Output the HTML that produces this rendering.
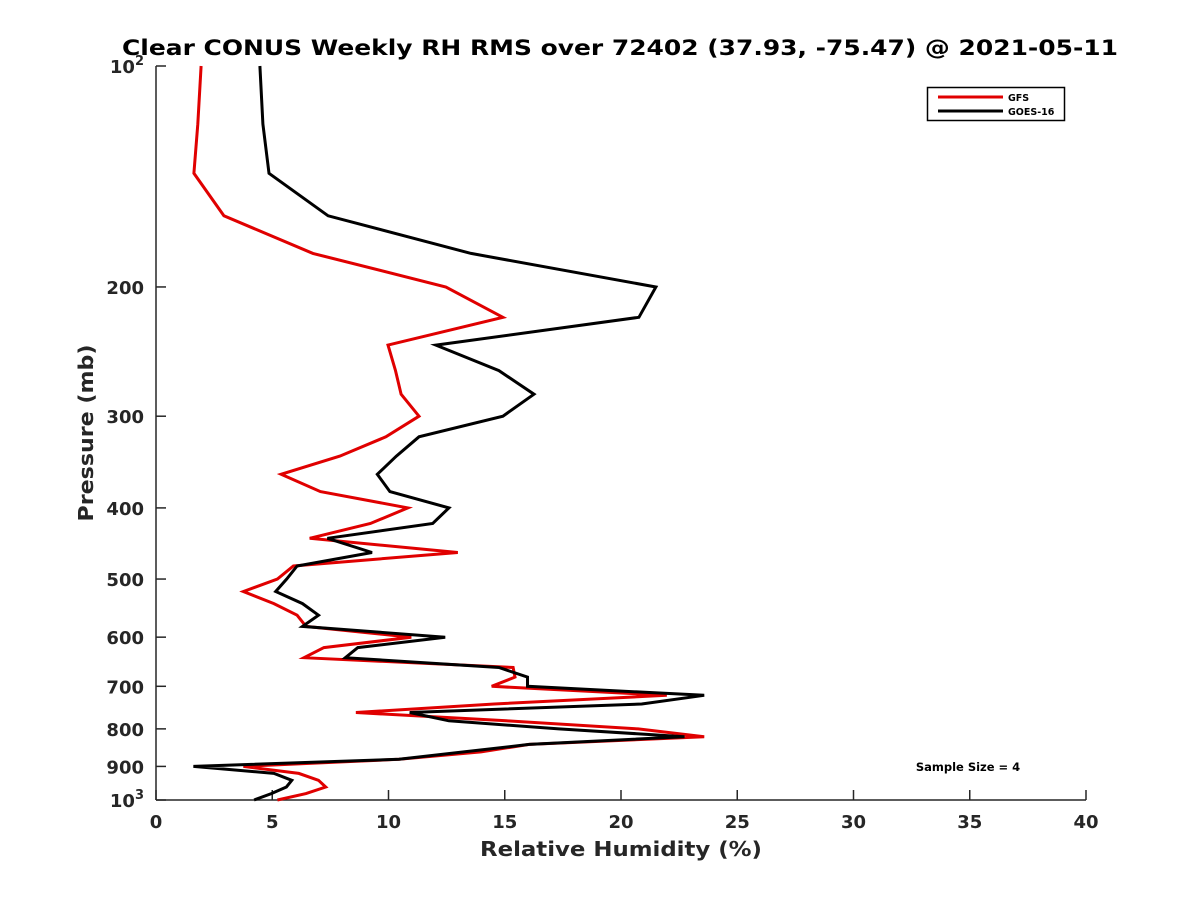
<!DOCTYPE html>
<html><head><meta charset="utf-8">
<style>
body{margin:0;background:#fff;}
svg{display:block;font-family:"DejaVu Sans","Liberation Sans",sans-serif;}
</style></head>
<body>
<svg id="chart" width="1200" height="900" viewBox="0 0 1200 900">
<rect x="0" y="0" width="1200" height="900" fill="#fff"/>
<text x="620" y="55" text-anchor="middle" font-size="21" font-weight="bold" fill="#000" textLength="996" lengthAdjust="spacingAndGlyphs">Clear CONUS Weekly RH RMS over 72402 (37.93, -75.47) @ 2021-05-11</text>
<g id="axes"></g>
<g id="series"></g>
<g>
<rect x="927.5" y="87.5" width="137" height="33" fill="#fff" stroke="#000" stroke-width="1.5"/>
<line x1="938" y1="97" x2="1003" y2="97" stroke="#e00000" stroke-width="3"/>
<text x="1008" y="101" font-size="9.5" font-weight="bold">GFS</text>
<line x1="938" y1="111" x2="1003" y2="111" stroke="#000" stroke-width="3"/>
<text x="1008" y="115" font-size="9.5" font-weight="bold">GOES-16</text>
</g>
<text x="968" y="771" text-anchor="middle" font-size="11.5" font-weight="bold">Sample Size = 4</text>
<text x="621" y="856" text-anchor="middle" font-size="20" font-weight="bold" fill="#262626" textLength="282" lengthAdjust="spacingAndGlyphs">Relative Humidity (%)</text>
<text transform="translate(93,433) rotate(-90)" text-anchor="middle" font-size="20" font-weight="bold" fill="#262626" textLength="177" lengthAdjust="spacingAndGlyphs">Pressure (mb)</text>
</svg>
<script>
const pressures = [100,120,140,160,180,200,220,240,260,280,300,320,340,360,380,400,420,440,460,480,500,520,540,560,580,600,620,640,660,680,700,720,740,760,780,800,820,840,860,880,900,920,940,960,980,1000];
const gfsRH = [1.94,1.8,1.63,2.92,6.75,12.47,14.92,9.98,10.3,10.54,11.31,9.89,7.91,5.38,7.07,10.83,9.22,6.61,12.98,5.91,5.22,3.76,5.07,6.07,6.45,10.98,7.22,6.37,15.36,15.44,14.44,21.97,14.55,8.6,15.07,20.74,23.58,16.05,13.98,10.45,3.76,6.14,6.99,7.3,6.45,5.22];
const goesRH = [4.47,4.6,4.86,7.4,13.55,21.5,20.77,12.04,14.75,16.26,14.92,11.31,10.34,9.52,10.06,12.6,11.9,7.37,9.29,6.07,5.62,5.15,6.3,6.99,6.3,12.44,8.68,8.14,14.75,15.98,15.98,23.58,20.89,10.91,12.6,17.33,22.73,16.05,13.24,10.45,1.61,5.07,5.84,5.61,4.96,4.22];
const xTicks = [0,5,10,15,20,25,30,35,40];
const yTicks = [100,200,300,400,500,600,700,800,900,1000];
const yTickLabels = ["10^2","200","300","400","500","600","700","800","900","10^3"];

const X0=156,X1=1086,Y0=66,Y1=800;
const sx=v=>X0+(v-0)/(40-0)*(X1-X0);
const sy=p=>Y0+(Math.log10(p)-2)*(Y1-Y0);
const NS="http://www.w3.org/2000/svg";
function mk(tag,attrs,parent){const e=document.createElementNS(NS,tag);for(const k in attrs)e.setAttribute(k,attrs[k]);parent.appendChild(e);return e;}
const axes=document.getElementById('axes');
let a=mk('line',{x1:X0,y1:Y0,x2:X0,y2:Y1,stroke:'#262626','stroke-width':1.5},axes);


a=mk('line',{x1:X0,y1:Y1,x2:X1,y2:Y1,stroke:'#262626','stroke-width':1.5},axes);


xTicks.forEach(v=>{
  const x=sx(v);
  const t=mk('line',{x1:x,y1:Y1,x2:x,y2:Y1-10,stroke:'#262626','stroke-width':1.5},axes);
  
  
  const l=mk('text',{x:x,y:Y1+28,'text-anchor':'middle','font-size':18,'font-weight':'bold',fill:'#262626'},axes);
  l.textContent=v;
  
  
});
yTicks.forEach((p,i)=>{
  const y=sy(p);
  const t=mk('line',{x1:X0,y1:y,x2:X0+10,y2:y,stroke:'#262626','stroke-width':1.5},axes);
  
  
  const lab=yTickLabels[i];
  const l=mk('text',{x:X0-12,y:y+7,'text-anchor':'end','font-size':18,'font-weight':'bold',fill:'#262626'},axes);
  if(lab.indexOf('^')>=0){
    const parts=lab.split('^');
    const b=mk('tspan',{},l); b.textContent=parts[0];
    const s=mk('tspan',{dy:-8,'font-size':13},l); s.textContent=parts[1];
  } else l.textContent=lab;
  
  
});
const ser=document.getElementById('series');
function line(vals,color,name){
  const d=vals.map((v,i)=>(i?'L':'M')+sx(v).toFixed(1)+','+sy(pressures[i]).toFixed(1)).join(' ');
  const p=mk('path',{d:d,fill:'none',stroke:color,'stroke-width':3,'stroke-linejoin':'miter'},ser);
  
  
}
line(gfsRH,'#e00000','gfs-line');
line(goesRH,'#000000','goes16-line');
</script>
</body></html>
